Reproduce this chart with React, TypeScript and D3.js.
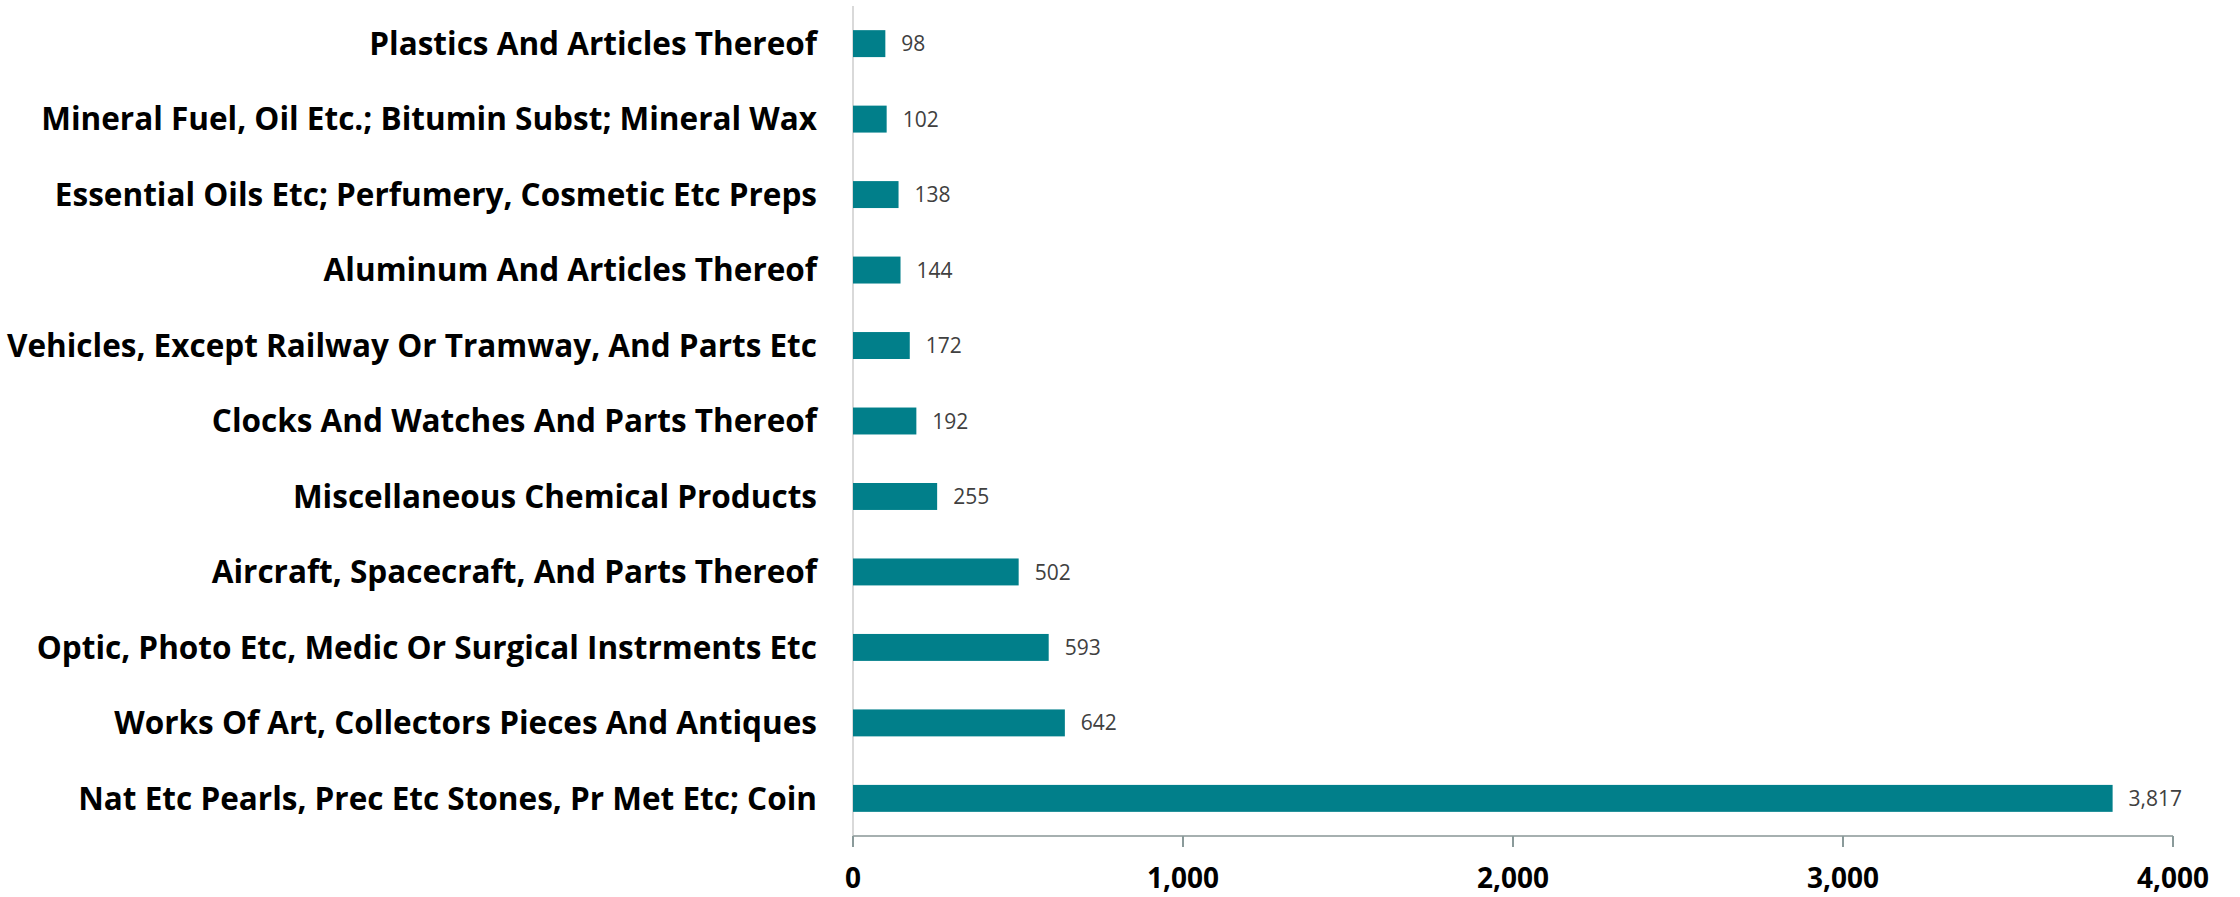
import React, { useRef, useEffect } from 'react';
import * as d3 from 'd3';

// top to bottom, as drawn
const categories = [
  'Plastics And Articles Thereof',
  'Mineral Fuel, Oil Etc.; Bitumin Subst; Mineral Wax',
  'Essential Oils Etc; Perfumery, Cosmetic Etc Preps',
  'Aluminum And Articles Thereof',
  'Vehicles, Except Railway Or Tramway, And Parts Etc',
  'Clocks And Watches And Parts Thereof',
  'Miscellaneous Chemical Products',
  'Aircraft, Spacecraft, And Parts Thereof',
  'Optic, Photo Etc, Medic Or Surgical Instrments Etc',
  'Works Of Art, Collectors Pieces And Antiques',
  'Nat Etc Pearls, Prec Etc Stones, Pr Met Etc; Coin',
];
const values = [98, 102, 138, 144, 172, 192, 255, 502, 593, 642, 3817];
const xTicks = [0, 1000, 2000, 3000, 4000];

const width = 2240;
const height = 897;
const FONT = '"Open Sans", "Noto Sans", sans-serif';

const App: React.FC = () => {
  const svgRef = useRef<SVGSVGElement>(null);

  useEffect(() => {
    if (!svgRef.current) return;
    const svg = d3.select(svgRef.current);
    svg.selectAll('*').remove();

    const left = 853;
    const right = 2173;
    const top = 6;
    const bottom = 836;

    const x = d3.scaleLinear().domain([0, 4000]).range([left, right]);
    const y = d3.scaleBand<string>()
      .domain(categories)
      .range([top, bottom])
      .paddingInner(0.643)
      .paddingOuter(0.32);

    const fmt = d3.format(',');

    // vertical axis line
    svg.append('line')
      .attr('x1', left).attr('x2', left)
      .attr('y1', top).attr('y2', bottom)
      .attr('stroke', '#d9d9d9')
      .attr('stroke-width', 2);

    // bars
    svg.append('g')
      .selectAll('rect')
      .data(values)
      .join('rect')
      .attr('x', x(0))
      .attr('y', (d, i) => y(categories[i])!)
      .attr('width', d => x(d) - x(0))
      .attr('height', y.bandwidth())
      .attr('fill', '#017f8a');

    // value labels
    svg.append('g')
      .selectAll('text')
      .data(values)
      .join('text')
      .attr('x', d => x(d) + 16)
      .attr('y', (d, i) => y(categories[i])! + y.bandwidth() / 2)
      .attr('dy', '0.36em')
      .attr('font-family', FONT)
      .attr('font-size', 21)
      .attr('fill', '#404040')
      .text(d => fmt(d));

    // category labels
    svg.append('g')
      .selectAll('text')
      .data(categories)
      .join('text')
      .attr('x', left - 36)
      .attr('y', d => y(d)! + y.bandwidth() / 2)
      .attr('dy', '0.36em')
      .attr('text-anchor', 'end')
      .attr('font-family', FONT)
      .attr('font-weight', 'bold')
      .attr('font-size', 31.5)
      .attr('fill', '#000')
      .text(d => d);

    // x axis
    const xAxis = svg.append('g').attr('transform', `translate(0,${bottom})`);
    xAxis.append('line')
      .attr('x1', left).attr('x2', right)
      .attr('stroke', '#a6b0b0')
      .attr('stroke-width', 2);
    xAxis.selectAll('line.tick')
      .data(xTicks)
      .join('line')
      .attr('class', 'tick')
      .attr('x1', d => x(d)).attr('x2', d => x(d))
      .attr('y1', 0).attr('y2', 11)
      .attr('stroke', '#8a9a9a')
      .attr('stroke-width', 2);
    xAxis.selectAll('text')
      .data(xTicks)
      .join('text')
      .attr('x', d => x(d))
      .attr('y', 52)
      .attr('text-anchor', 'middle')
      .attr('font-family', FONT)
      .attr('font-weight', 'bold')
      .attr('font-size', 28)
      .attr('fill', '#000')
      .text(d => fmt(d));
  }, []);

  return (
    <>
      <style>{'body{margin:0}'}</style>
      <svg ref={svgRef} width={width} height={height} style={{ display: 'block', background: '#fff' }} />
    </>
  );
};

export default App;
